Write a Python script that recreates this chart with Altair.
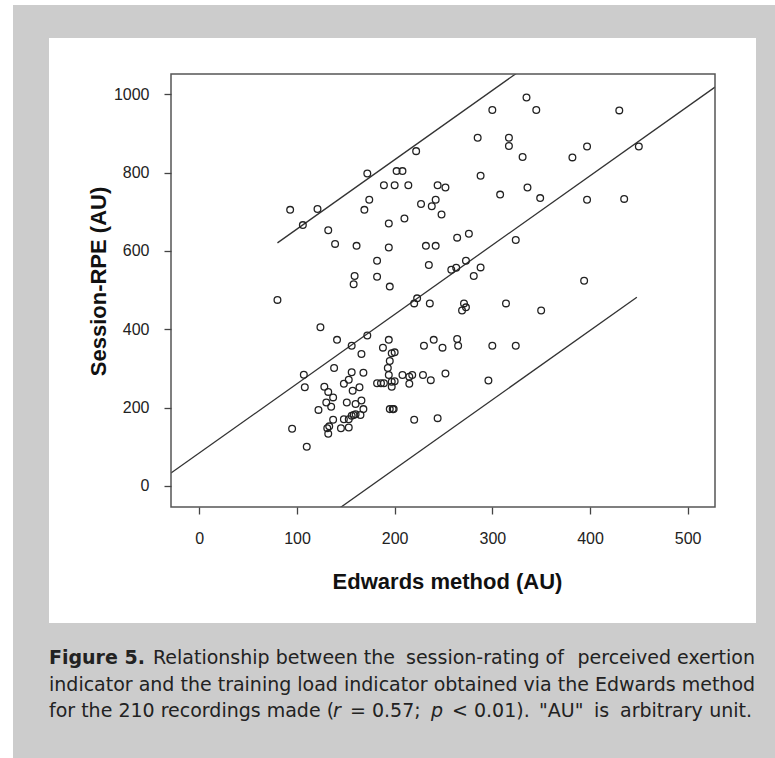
import altair as alt
import pandas as pd

# ---- data ----
edwards = [335, 300, 345, 285, 317, 317, 331, 222, 172, 202, 208, 288, 189, 200, 214, 244,
           252, 336, 308, 349, 174, 169, 121, 227, 242, 238, 248, 210, 194, 106, 132, 264,
           276, 324, 139, 161, 194, 232, 242, 182, 235, 258, 263, 273, 288, 281, 159, 158,
           182, 195, 223, 220, 236, 271, 273, 269, 314, 350, 124, 93, 80, 107, 108, 95,
           110, 141, 156, 172, 166, 194, 188, 200, 197, 195, 193, 194, 186, 189, 182, 197,
           200, 197, 208, 215, 218, 215, 229, 237, 252, 296, 230, 240, 249, 264, 265, 300,
           324, 138, 156, 168, 148, 153, 157, 164, 128, 132, 137, 130, 135, 122, 151, 160,
           166, 168, 158, 156, 160, 165, 148, 153, 137, 133, 131, 132, 145, 153, 195, 198,
           199, 220, 244, 430, 397, 450, 382, 397, 435, 394]
session_rpe = [992, 960, 960, 889, 889, 868, 840, 855, 798, 804, 804, 792, 768, 768, 768, 768,
               762, 762, 744, 735, 731, 705, 707, 720, 731, 714, 693, 683, 670, 666, 653, 634,
               644, 628, 618, 613, 609, 613, 613, 575, 564, 552, 557, 575, 558, 536, 536, 515,
               534, 509, 479, 466, 466, 466, 456, 448, 466, 448, 405, 705, 475, 284, 252, 146,
               100, 373, 358, 384, 337, 373, 353, 341, 339, 319, 301, 283, 262, 262, 262, 266,
               267, 253, 283, 279, 283, 261, 283, 270, 287, 269, 358, 373, 353, 375, 358, 358,
               358, 301, 290, 289, 261, 271, 243, 252, 253, 240, 226, 213, 202, 194, 213, 209,
               218, 196, 181, 179, 183, 181, 170, 170, 169, 152, 147, 133, 147, 149, 196, 196,
               196, 169, 173, 959, 867, 867, 839, 731, 733, 524]

fit_slope = 1.77
fit_intercept = 84
band_half_width = 395
band_x = [80, 448]
x_domain = [-29, 528]
y_domain = [-54, 1052]
x_ticks = [0, 100, 200, 300, 400, 500]
y_ticks = [0, 200, 400, 600, 800, 1000]

x_title = "Edwards method (AU)"
y_title = "Session-RPE (AU)"
caption_bold = "Figure 5."
caption_l1 = ["Relationship between the", "session-rating of", "perceived exertion"]
caption_l2 = "indicator and the training load indicator obtained via the Edwards method"
caption_l3 = ["for the 210 recordings made (", "r", "= 0.57;", "p", "< 0.01).",
              "\"AU\"", "is", "arbitrary", "unit."]
caption_l3_italic = [False, True, False, True, False, False, False, False, False]

# ---- layout (pixels, relative to the plot area's top-left corner) ----
W, H = 544, 433
PAD = {"left": 171, "top": 74, "right": 60, "bottom": 251}
GRAY = "#cccccc"
l1_x = [-18, 235, 584]
l1_align = ["left", "left", "right"]
l3_x = [-122, 162, 179, 260, 281, 368, 423, 449, 581]
l3_align = ["left"] * 8 + ["right"]

pts = pd.DataFrame({"edwards": edwards, "rpe": session_rpe})

rows = []
for xv in x_domain:
    rows.append({"line": "fit", "edwards": xv, "rpe": fit_intercept + fit_slope * xv})
for xv in band_x:
    rows.append({"line": "upper", "edwards": xv,
                 "rpe": fit_intercept + band_half_width + fit_slope * xv})
    rows.append({"line": "lower", "edwards": xv,
                 "rpe": fit_intercept - band_half_width + fit_slope * xv})
lines_df = pd.DataFrame(rows)

xs = alt.Scale(domain=x_domain, nice=False, zero=False)
ys = alt.Scale(domain=y_domain, nice=False, zero=False)

x_axis = alt.Axis(values=x_ticks, format="d", grid=False, domain=False, tickSize=7,
                  tickWidth=1.3, tickColor="#444", labelFont="Liberation Sans",
                  labelFontSize=16, labelColor="#222", labelPadding=16, title=x_title,
                  titleFont="Liberation Sans", titleFontSize=22, titleFontWeight="bold",
                  titleColor="#111", titleX=276, titleY=81, titleAlign="center",
                  titleBaseline="alphabetic", zindex=1)
y_axis = alt.Axis(values=y_ticks, format="d", grid=False, domain=False, tickSize=7,
                  tickWidth=1.3, tickColor="#444", labelFont="Liberation Sans",
                  labelFontSize=16, labelColor="#222", labelPadding=15, title=y_title,
                  titleFont="Liberation Sans", titleFontSize=22, titleFontWeight="bold",
                  titleColor="#111", titleAngle=270, titleX=-66, titleY=207,
                  titleAlign="center", titleBaseline="alphabetic", zindex=1)

one = alt.Data(values=[{"k": 1}])

gray_bg = alt.Chart(one).mark_rect(color=GRAY).encode(
    x=alt.value(-158), x2=alt.value(604), y=alt.value(-69), y2=alt.value(684))
white_bg = alt.Chart(one).mark_rect(color="white").encode(
    x=alt.value(-122), x2=alt.value(585), y=alt.value(-36), y2=alt.value(549))

lines = alt.Chart(lines_df).mark_line(clip=True, color="#333", strokeWidth=1.3).encode(
    x=alt.X("edwards:Q", scale=xs, axis=x_axis),
    y=alt.Y("rpe:Q", scale=ys, axis=y_axis),
    detail="line:N")

points = alt.Chart(pts).mark_point(shape="circle", filled=False, size=45, strokeWidth=1.3,
                                   color="#222", opacity=1).encode(
    x=alt.X("edwards:Q", scale=xs),
    y=alt.Y("rpe:Q", scale=ys))

frame = alt.Chart(one).mark_rect(fillOpacity=0, stroke="#555", strokeWidth=1.5).encode(
    x=alt.value(0), x2=alt.value(W), y=alt.value(0), y2=alt.value(H))


def txt(s, x, y, weight="normal", style="normal", align="left"):
    return alt.Chart(one).mark_text(align=align, baseline="alphabetic", font="DejaVu Sans",
                                    fontSize=19, color="#222", fontWeight=weight,
                                    fontStyle=style).encode(
        x=alt.value(x), y=alt.value(y), text=alt.value(s))


caption = [txt(caption_bold, -122, 590, weight="bold"),
           txt(caption_l2, -122, 616.5)]
for s, xv, al in zip(caption_l1, l1_x, l1_align):
    caption.append(txt(s, xv, 590, align=al))
for s, xv, it, al in zip(caption_l3, l3_x, caption_l3_italic, l3_align):
    caption.append(txt(s, xv, 643, style="italic" if it else "normal", align=al))

chart = alt.layer(gray_bg, white_bg, lines, points, frame, *caption).properties(
    width=W, height=H, padding=PAD,
    autosize=alt.AutoSizeParams(type="none"), background="white"
).configure_view(stroke=None)

chart.save("out.html", embed_options={"renderer": "svg", "actions": False})
